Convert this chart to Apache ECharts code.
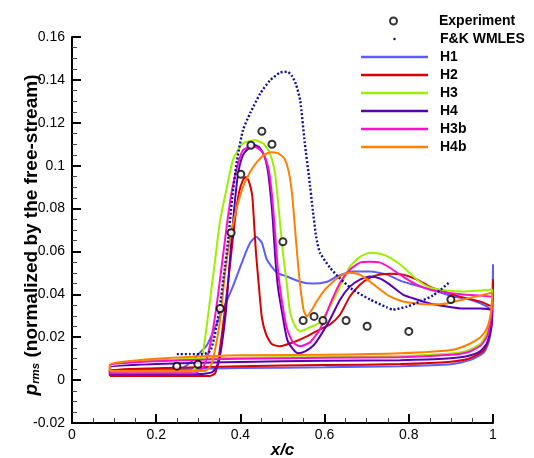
<!DOCTYPE html>
<html><head><meta charset="utf-8">
<script src="https://cdn.jsdelivr.net/npm/echarts@6/dist/echarts.min.js"></script>
<style>html,body{margin:0;padding:0;background:#fff}#c{width:534px;height:458px}</style>
</head><body><div id="c"></div>
<script>
const FONT = '"Liberation Sans", Arial, Helvetica, sans-serif';
const xTicks = [0, 0.2, 0.4, 0.6, 0.8, 1];
const yTicks = [-0.02, 0, 0.02, 0.04, 0.06, 0.08, 0.1, 0.12, 0.14, 0.16];
const seriesNames = ['H1', 'H2', 'H3', 'H4', 'H3b', 'H4b'];
const seriesColors = ['#5c5cff', '#d80000', '#9cf000', '#5a00b0', '#ff10c8', '#ff8000'];

const experiment = [[0.249,0.0065],[0.299,0.0074],[0.352,0.0334],[0.378,0.0687],[0.401,0.096],[0.425,0.1095],[0.451,0.116],[0.475,0.110],[0.501,0.0645],[0.549,0.0278],[0.575,0.0297],[0.596,0.0278],[0.651,0.0278],[0.701,0.0251],[0.800,0.0227],[0.900,0.0376]];

const fkWmles = [[0.249,0.0121],[0.280,0.0121],[0.311,0.0121],[0.328,0.0135],[0.337,0.019],[0.344,0.026],[0.352,0.0353],[0.361,0.0492],[0.371,0.0654],[0.380,0.084],[0.392,0.1025],[0.406,0.1165],[0.423,0.1244],[0.447,0.1336],[0.470,0.1397],[0.494,0.1434],[0.511,0.1438],[0.522,0.1420],[0.532,0.1380],[0.542,0.1304],[0.553,0.1104],[0.563,0.0947],[0.572,0.0793],[0.580,0.0668],[0.589,0.0594],[0.613,0.0524],[0.637,0.0473],[0.667,0.0422],[0.708,0.0376],[0.748,0.0339],[0.762,0.0329],[0.796,0.0343],[0.827,0.0367],[0.857,0.0394],[0.876,0.0422],[0.898,0.0459]];

const h1Upper = [[0.09,0.0019],[0.20,0.0023],[0.25,0.0045],[0.28,0.0080],[0.30,0.0120],[0.321,0.0165],[0.352,0.030],[0.382,0.0436],[0.406,0.0561],[0.423,0.064],[0.437,0.0668],[0.451,0.064],[0.463,0.0561],[0.487,0.0501],[0.511,0.0483],[0.542,0.0459],[0.572,0.045],[0.606,0.0459],[0.629,0.0483],[0.667,0.0506],[0.708,0.0506],[0.748,0.0492],[0.786,0.0459],[0.827,0.0436],[0.867,0.0413],[0.905,0.039],[0.945,0.0376],[0.986,0.0343],[0.998,0.032],[1.0,0.054]];
const h1Lower = [[0.998,0.028],[0.995,0.0227],[0.988,0.0167],[0.976,0.0125],[0.945,0.0093],[0.9,0.0074],[0.78,0.0065],[0.6,0.006],[0.4,0.0056],[0.2,0.005],[0.09,0.0046]];

const h2Upper = [[0.09,0.0019],[0.328,0.0019],[0.340,0.0032],[0.347,0.0088],[0.356,0.0213],[0.368,0.0408],[0.378,0.0585],[0.387,0.0747],[0.397,0.0877],[0.406,0.0933],[0.413,0.0947],[0.420,0.0928],[0.428,0.0863],[0.432,0.0747],[0.437,0.0594],[0.444,0.0436],[0.451,0.0292],[0.461,0.0213],[0.475,0.0167],[0.494,0.0158],[0.525,0.0176],[0.558,0.0204],[0.589,0.0237],[0.613,0.026],[0.637,0.0306],[0.660,0.039],[0.684,0.0445],[0.708,0.0478],[0.732,0.0492],[0.755,0.0496],[0.786,0.0492],[0.819,0.0469],[0.850,0.0436],[0.891,0.0408],[0.929,0.0385],[0.969,0.0367],[0.998,0.0343],[1.0,0.047]];
const h2Lower = [[0.998,0.030],[0.995,0.024],[0.988,0.018],[0.976,0.0135],[0.945,0.0102],[0.9,0.0086],[0.78,0.0075],[0.6,0.007],[0.4,0.0065],[0.2,0.0055],[0.09,0.0045]];

const h3Upper = [[0.09,0.0032],[0.280,0.0037],[0.297,0.0065],[0.311,0.013],[0.328,0.0376],[0.340,0.0561],[0.352,0.0747],[0.368,0.09],[0.382,0.1025],[0.406,0.1104],[0.435,0.1118],[0.454,0.1104],[0.470,0.1058],[0.482,0.0965],[0.489,0.084],[0.501,0.0594],[0.511,0.0436],[0.518,0.0316],[0.530,0.0251],[0.542,0.0227],[0.565,0.0246],[0.589,0.0269],[0.613,0.0343],[0.637,0.0436],[0.660,0.0529],[0.684,0.0575],[0.708,0.0594],[0.732,0.0589],[0.755,0.0571],[0.786,0.0529],[0.819,0.0469],[0.850,0.0432],[0.891,0.0418],[0.929,0.0413],[0.969,0.0418],[0.998,0.0422]];
const h3Lower = [[0.997,0.035],[0.993,0.028],[0.985,0.022],[0.97,0.017],[0.94,0.0138],[0.9,0.0124],[0.78,0.0112],[0.6,0.0108],[0.4,0.0104],[0.2,0.0092],[0.09,0.007]];

const h4Upper = [[0.09,0.0028],[0.304,0.0028],[0.333,0.0037],[0.347,0.0074],[0.356,0.0167],[0.366,0.0329],[0.375,0.0561],[0.385,0.0793],[0.394,0.0956],[0.406,0.1049],[0.423,0.1086],[0.435,0.1095],[0.447,0.1081],[0.458,0.1039],[0.466,0.0965],[0.473,0.084],[0.477,0.0747],[0.482,0.0594],[0.489,0.0436],[0.499,0.0316],[0.511,0.019],[0.525,0.0144],[0.537,0.0125],[0.555,0.0135],[0.575,0.0165],[0.589,0.0204],[0.613,0.0283],[0.637,0.0376],[0.660,0.0436],[0.684,0.0469],[0.708,0.0483],[0.732,0.0473],[0.755,0.0445],[0.786,0.0399],[0.819,0.0376],[0.850,0.0357],[0.891,0.0343],[0.929,0.0334],[0.969,0.0334],[0.998,0.0325]];
const h4Lower = [[0.997,0.027],[0.993,0.022],[0.985,0.017],[0.97,0.0135],[0.94,0.0112],[0.9,0.0102],[0.78,0.0093],[0.6,0.009],[0.4,0.0085],[0.2,0.0075],[0.09,0.006]];

const h3bUpper = [[0.09,0.0032],[0.292,0.0032],[0.311,0.006],[0.323,0.0121],[0.335,0.0237],[0.347,0.0399],[0.359,0.0585],[0.371,0.077],[0.380,0.0886],[0.392,0.0993],[0.406,0.1072],[0.428,0.109],[0.442,0.1081],[0.454,0.1058],[0.466,0.0993],[0.473,0.09],[0.480,0.0747],[0.489,0.0515],[0.499,0.0362],[0.511,0.0237],[0.525,0.0176],[0.542,0.0158],[0.565,0.0176],[0.589,0.0237],[0.613,0.0353],[0.637,0.0455],[0.660,0.0515],[0.684,0.0548],[0.708,0.0552],[0.732,0.0548],[0.755,0.0524],[0.786,0.0483],[0.819,0.0445],[0.850,0.0422],[0.891,0.0408],[0.929,0.0399],[0.969,0.0394],[0.998,0.0385]];
const h3bLower = [[0.997,0.032],[0.993,0.026],[0.985,0.020],[0.97,0.016],[0.94,0.013],[0.9,0.0118],[0.78,0.0107],[0.6,0.0104],[0.4,0.010],[0.2,0.0088],[0.09,0.0068]];

const h4bUpper = [[0.09,0.0042],[0.316,0.0042],[0.330,0.007],[0.340,0.0144],[0.352,0.0283],[0.363,0.0492],[0.375,0.0654],[0.390,0.0793],[0.406,0.09],[0.423,0.097],[0.439,0.1016],[0.456,0.1049],[0.473,0.1063],[0.489,0.1058],[0.504,0.1035],[0.515,0.097],[0.523,0.0863],[0.530,0.0701],[0.537,0.0538],[0.544,0.0408],[0.551,0.032],[0.558,0.0297],[0.570,0.0329],[0.584,0.0376],[0.601,0.0422],[0.620,0.0459],[0.639,0.0487],[0.660,0.0501],[0.684,0.0492],[0.708,0.0459],[0.732,0.0422],[0.755,0.039],[0.786,0.0367],[0.819,0.0357],[0.850,0.0353],[0.891,0.0357],[0.929,0.0376],[0.969,0.0394],[0.998,0.0408]];
const h4bLower = [[0.997,0.035],[0.993,0.029],[0.985,0.024],[0.97,0.020],[0.94,0.0165],[0.9,0.014],[0.78,0.0125],[0.6,0.0118],[0.4,0.0116],[0.2,0.010],[0.09,0.0074]];

const uppers = [h1Upper, h2Upper, h3Upper, h4Upper, h3bUpper, h4bUpper];
const lowers = [h1Lower, h2Lower, h3Lower, h4Lower, h3bLower, h4bLower];

const lineSeries = seriesNames.map((name, i) => ({
  name, type: 'line', data: uppers[i].concat(lowers[i], [uppers[i][0]]),
  showSymbol: false, symbol: 'none', smooth: 0.2, z: 2 + i,
  lineStyle: { color: seriesColors[i], width: 2 }, itemStyle: { color: seriesColors[i] },
  silent: true, animation: false
}));

const legendText = { fontFamily: FONT, fontSize: 14, fontWeight: 'bold', color: '#000', lineHeight: 18, padding: [0, 0, 0, 7] };

const chart = echarts.init(document.getElementById('c'), null, { renderer: 'canvas' });
chart.setOption({
  backgroundColor: '#fff',
  animation: false,
  grid: { left: 72, right: 41, top: 37, bottom: 35, containLabel: false, outerBoundsMode: 'none' },
  legend: [
    { data: [{ name: 'Experiment', icon: 'emptyCircle' }], orient: 'vertical', left: 389, top: 12, padding: 0, itemGap: 0,
      itemWidth: 67, itemHeight: 7, selectedMode: false, textStyle: legendText },
    { data: [{ name: 'F&K WMLES', icon: 'circle' }].concat(seriesNames.map(n => ({ name: n, icon: 'rect' }))),
      orient: 'vertical', left: 361, top: 30, padding: 0, itemGap: 0, itemWidth: 67, itemHeight: 2.5, selectedMode: false,
      textStyle: legendText }
  ],
  xAxis: {
    type: 'value', min: xTicks[0], max: xTicks[xTicks.length - 1], interval: 0.2,
    name: 'x/c', nameLocation: 'middle', nameGap: 19, nameMoveOverlap: false,
    nameTextStyle: { fontFamily: FONT, fontSize: 17, fontWeight: 'bold', fontStyle: 'italic', color: '#000' },
    axisLine: { onZero: false, lineStyle: { color: '#000', width: 2 } },
    axisTick: { inside: true, length: 9, lineStyle: { color: '#000', width: 2 } },
    minorTick: { show: true, splitNumber: 4, length: 5, lineStyle: { color: '#444', width: 1 } },
    axisLabel: { fontFamily: FONT, fontSize: 14, color: '#000', margin: 5 },
    splitLine: { show: false }
  },
  yAxis: {
    type: 'value', min: yTicks[0], max: yTicks[yTicks.length - 1], interval: 0.02,
    name: '{p|p}{s|rms}{n| (normalized by the free-stream)}', nameLocation: 'middle', nameGap: 30, nameMoveOverlap: false,
    nameTextStyle: { color: '#000', padding: [0, 10, 0, 0], rich: {
      p: { fontFamily: FONT, fontSize: 19, fontWeight: 'bold', fontStyle: 'italic', color: '#000', verticalAlign: 'middle' },
      s: { fontFamily: FONT, fontSize: 11.5, fontWeight: 'bold', fontStyle: 'italic', color: '#000', padding: [9, 0, 0, 0], verticalAlign: 'middle' },
      n: { fontFamily: FONT, fontSize: 19, fontWeight: 'bold', color: '#000', verticalAlign: 'middle' }
    } },
    axisLine: { lineStyle: { color: '#000', width: 2 } },
    axisTick: { inside: true, length: 9, lineStyle: { color: '#000', width: 2 } },
    minorTick: { show: true, splitNumber: 4, length: 5, lineStyle: { color: '#444', width: 1 } },
    axisLabel: { fontFamily: FONT, fontSize: 14, color: '#000', margin: 7 },
    splitLine: { show: false }
  },
  series: lineSeries.concat([
    { name: 'F&K WMLES', type: 'line', data: fkWmles, showSymbol: false, symbol: 'none', smooth: 0.2, z: 10,
      lineStyle: { color: '#10109a', width: 2.4, type: [2, 2] }, itemStyle: { color: '#10109a' }, silent: true },
    { name: 'Experiment', type: 'scatter', data: experiment, symbol: 'emptyCircle', symbolSize: 7, z: 11,
      itemStyle: { color: '#000', borderColor: '#000', borderWidth: 1.8 }, silent: true }
  ])
});
</script></body></html>
